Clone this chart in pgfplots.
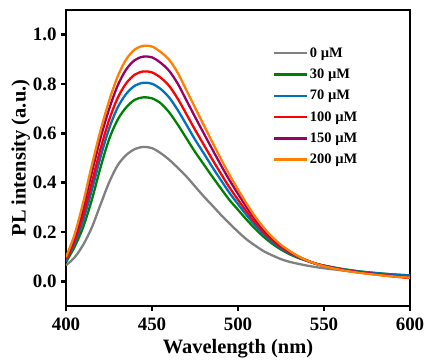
\documentclass[border=0pt]{standalone}
\usepackage{pgfplots}
\pgfplotsset{compat=1.18}
\usepackage{fontspec}
\setmainfont{Liberation Serif}
\definecolor{cgray}{RGB}{128,128,128}
\definecolor{cgreen}{RGB}{0,128,0}
\definecolor{cblue}{RGB}{0,114,189}
\definecolor{cred}{RGB}{255,0,0}
\definecolor{cpurple}{RGB}{153,0,102}
\definecolor{corange}{RGB}{255,128,0}
\begin{document}
\begin{tikzpicture}
\useasboundingbox (-66bp,-56bp) rectangle (364bp,306bp);
\begin{axis}[
  scale only axis, width=344bp, height=296bp,
  at={(0,0)}, anchor=south west,
  xmin=400, xmax=600, ymin=-0.1, ymax=1.1,
  xtick={400,450,500,550,600},
  ytick={0,0.2,0.4,0.6,0.8,1.0},
  yticklabel style={/pgf/number format/fixed, /pgf/number format/fixed zerofill, /pgf/number format/precision=1},
  /pgf/number format/assume math mode=true,
  tick align=outside, tick pos=left,
  major tick length=5bp,
  every tick/.style={black, line width=2.4bp},
  axis line style={line width=2.9bp},
  ticklabel style={font=\bfseries\fontsize{19}{22}\selectfont},
  yticklabel style={xshift=-1bp},
  xticklabel style={yshift=-3bp},
  label style={font=\bfseries\fontsize{20.5}{24}\selectfont},
  xlabel={Wavelength (nm)},
  ylabel={PL intensity (a.u.)},
  xlabel style={yshift=-2bp},
  ylabel style={yshift=-4bp},
  legend style={draw=none, fill=none, at={(rel axis cs:0.6,0.88)}, anchor=north west,
    font=\bfseries\fontsize{14.5}{16}\selectfont, row sep=6.2bp, inner sep=0pt},
  legend cell align=left,
  legend image code/.code={\draw[#1, line width=2.4bp] (0bp,0bp) -- (33bp,0bp);},
  every axis plot/.append style={line width=2.3bp, smooth, tension=0.5},
]
\addplot[cgray] coordinates {
(400,0.065)(405,0.097)(410,0.148)(415,0.218)(420,0.31)(425,0.4)(430,0.47)(435,0.512)(440,0.536)(445,0.545)(450,0.54)(455,0.52)(460,0.493)(465,0.46)(470,0.425)(475,0.385)(480,0.345)(485,0.308)(490,0.27)(495,0.235)(500,0.201)(505,0.17)(510,0.145)(515,0.122)(520,0.105)(525,0.09)(530,0.079)(535,0.071)(540,0.064)(545,0.058)(550,0.053)(560,0.045)(570,0.037)(580,0.031)(590,0.026)(600,0.022)};
\addlegendentry{0 µM}
\addplot[cgreen] coordinates {
(400,0.078)(405,0.14)(410,0.22)(415,0.33)(420,0.46)(425,0.575)(430,0.655)(435,0.705)(440,0.736)(445,0.746)(450,0.742)(455,0.722)(460,0.685)(465,0.635)(470,0.58)(475,0.525)(480,0.475)(485,0.425)(490,0.377)(495,0.33)(500,0.29)(505,0.25)(510,0.213)(515,0.18)(520,0.152)(525,0.129)(530,0.11)(535,0.095)(540,0.083)(545,0.072)(550,0.064)(560,0.051)(570,0.041)(580,0.034)(590,0.028)(600,0.024)};
\addlegendentry{30 µM}
\addplot[cblue] coordinates {
(400,0.084)(405,0.154)(410,0.248)(415,0.369)(420,0.502)(425,0.618)(430,0.704)(435,0.76)(440,0.793)(445,0.805)(450,0.801)(455,0.78)(460,0.745)(465,0.694)(470,0.635)(475,0.575)(480,0.52)(485,0.464)(490,0.411)(495,0.359)(500,0.313)(505,0.268)(510,0.227)(515,0.19)(520,0.16)(525,0.134)(530,0.114)(535,0.097)(540,0.084)(545,0.072)(550,0.063)(560,0.05)(570,0.04)(580,0.033)(590,0.028)(600,0.024)};
\addlegendentry{70 µM}
\addplot[cred] coordinates {
(400,0.088)(405,0.165)(410,0.27)(415,0.4)(420,0.535)(425,0.653)(430,0.743)(435,0.803)(440,0.838)(445,0.851)(450,0.847)(455,0.826)(460,0.792)(465,0.74)(470,0.678)(475,0.615)(480,0.555)(485,0.495)(490,0.437)(495,0.381)(500,0.331)(505,0.283)(510,0.238)(515,0.199)(520,0.166)(525,0.139)(530,0.117)(535,0.099)(540,0.084)(545,0.072)(550,0.063)(560,0.048)(570,0.037)(580,0.028)(590,0.02)(600,0.013)};
\addlegendentry{100 µM}
\addplot[cpurple] coordinates {
(400,0.094)(405,0.18)(410,0.299)(415,0.441)(420,0.579)(425,0.697)(430,0.793)(435,0.859)(440,0.897)(445,0.911)(450,0.908)(455,0.886)(460,0.853)(465,0.801)(470,0.734)(475,0.667)(480,0.601)(485,0.536)(490,0.472)(495,0.411)(500,0.355)(505,0.301)(510,0.252)(515,0.209)(520,0.173)(525,0.144)(530,0.12)(535,0.101)(540,0.085)(545,0.072)(550,0.062)(560,0.047)(570,0.037)(580,0.029)(590,0.022)(600,0.016)};
\addlegendentry{150 µM}
\addplot[corange] coordinates {
(400,0.098)(405,0.19)(410,0.32)(415,0.47)(420,0.61)(425,0.73)(430,0.83)(435,0.9)(440,0.94)(445,0.955)(450,0.952)(455,0.93)(460,0.898)(465,0.845)(470,0.775)(475,0.705)(480,0.635)(485,0.565)(490,0.497)(495,0.432)(500,0.372)(505,0.315)(510,0.262)(515,0.217)(520,0.179)(525,0.148)(530,0.123)(535,0.102)(540,0.085)(545,0.072)(550,0.061)(560,0.046)(570,0.035)(580,0.027)(590,0.02)(600,0.015)};
\addlegendentry{200 µM}
\end{axis}
\end{tikzpicture}
\end{document}
